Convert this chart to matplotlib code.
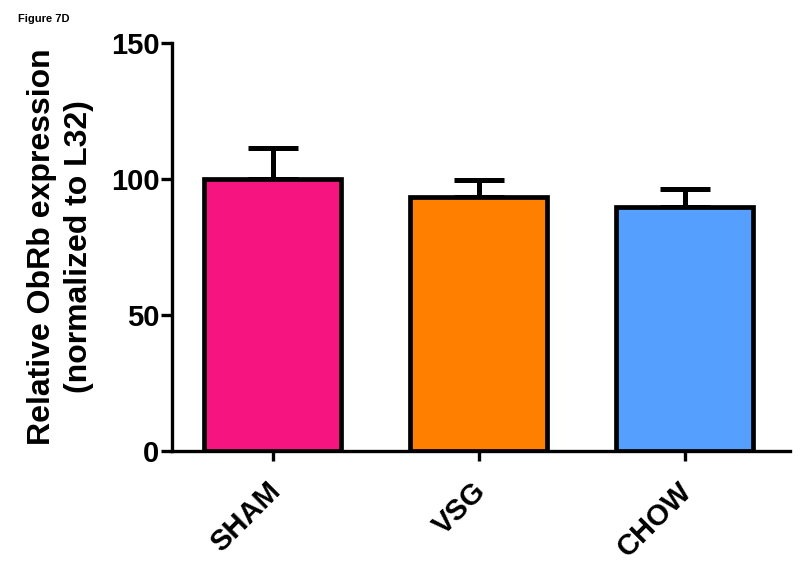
import matplotlib.pyplot as plt
import matplotlib.transforms as mtransforms

# Values
groups = ['SHAM', 'VSG', 'CHOW']
means = [100.0, 93.5, 89.5]
sems = [11.3, 6.0, 6.7]
colors = ['#F51480', '#FF8000', '#55A0FF']
y_ticks = [0, 50, 100, 150]

plt.rcParams['font.family'] = ['Liberation Sans', 'DejaVu Sans']
plt.rcParams['font.weight'] = 'bold'

fig = plt.figure(figsize=(8, 5.71), dpi=100)
ax = fig.add_axes([0.215, 0.21, 0.7725, 0.715])

x = list(range(len(groups)))
ax.bar(x, means, width=0.665, color=colors, edgecolor='black', linewidth=3.4, zorder=2)
ax.errorbar(x, means, yerr=[[0] * len(sems), sems], fmt='none', ecolor='black',
            elinewidth=3.6, capsize=18, capthick=3.6, zorder=1)

ax.set_xlim(-0.49, 2.51)
ax.set_ylim(0, 150)
ax.set_yticks(y_ticks)
ax.set_xticks(x)
ax.set_xticklabels(groups, rotation=45, ha='right', rotation_mode='anchor', fontsize=21, fontweight='bold')
ax.tick_params(axis='y', labelsize=21, width=2.4, length=8, pad=1)
ax.tick_params(axis='x', width=2.4, length=7.5, pad=11)

# nudge the rotated labels a little to the left
shift = mtransforms.ScaledTranslation(-7 / 100, 0, fig.dpi_scale_trans)
for lbl in ax.get_xticklabels():
    lbl.set_transform(lbl.get_transform() + shift)

for side in ['top', 'right']:
    ax.spines[side].set_visible(False)
for side in ['left', 'bottom']:
    ax.spines[side].set_linewidth(2.4)

ax.set_ylabel('Relative ObRb expression\n(normalized to L32)', fontsize=23, fontweight='bold',
              labelpad=12, linespacing=1.3)

fig.text(0.022, 0.975, 'Figure 7D', fontsize=8, fontweight='bold', va='top')

plt.savefig('out.png', dpi=100)
